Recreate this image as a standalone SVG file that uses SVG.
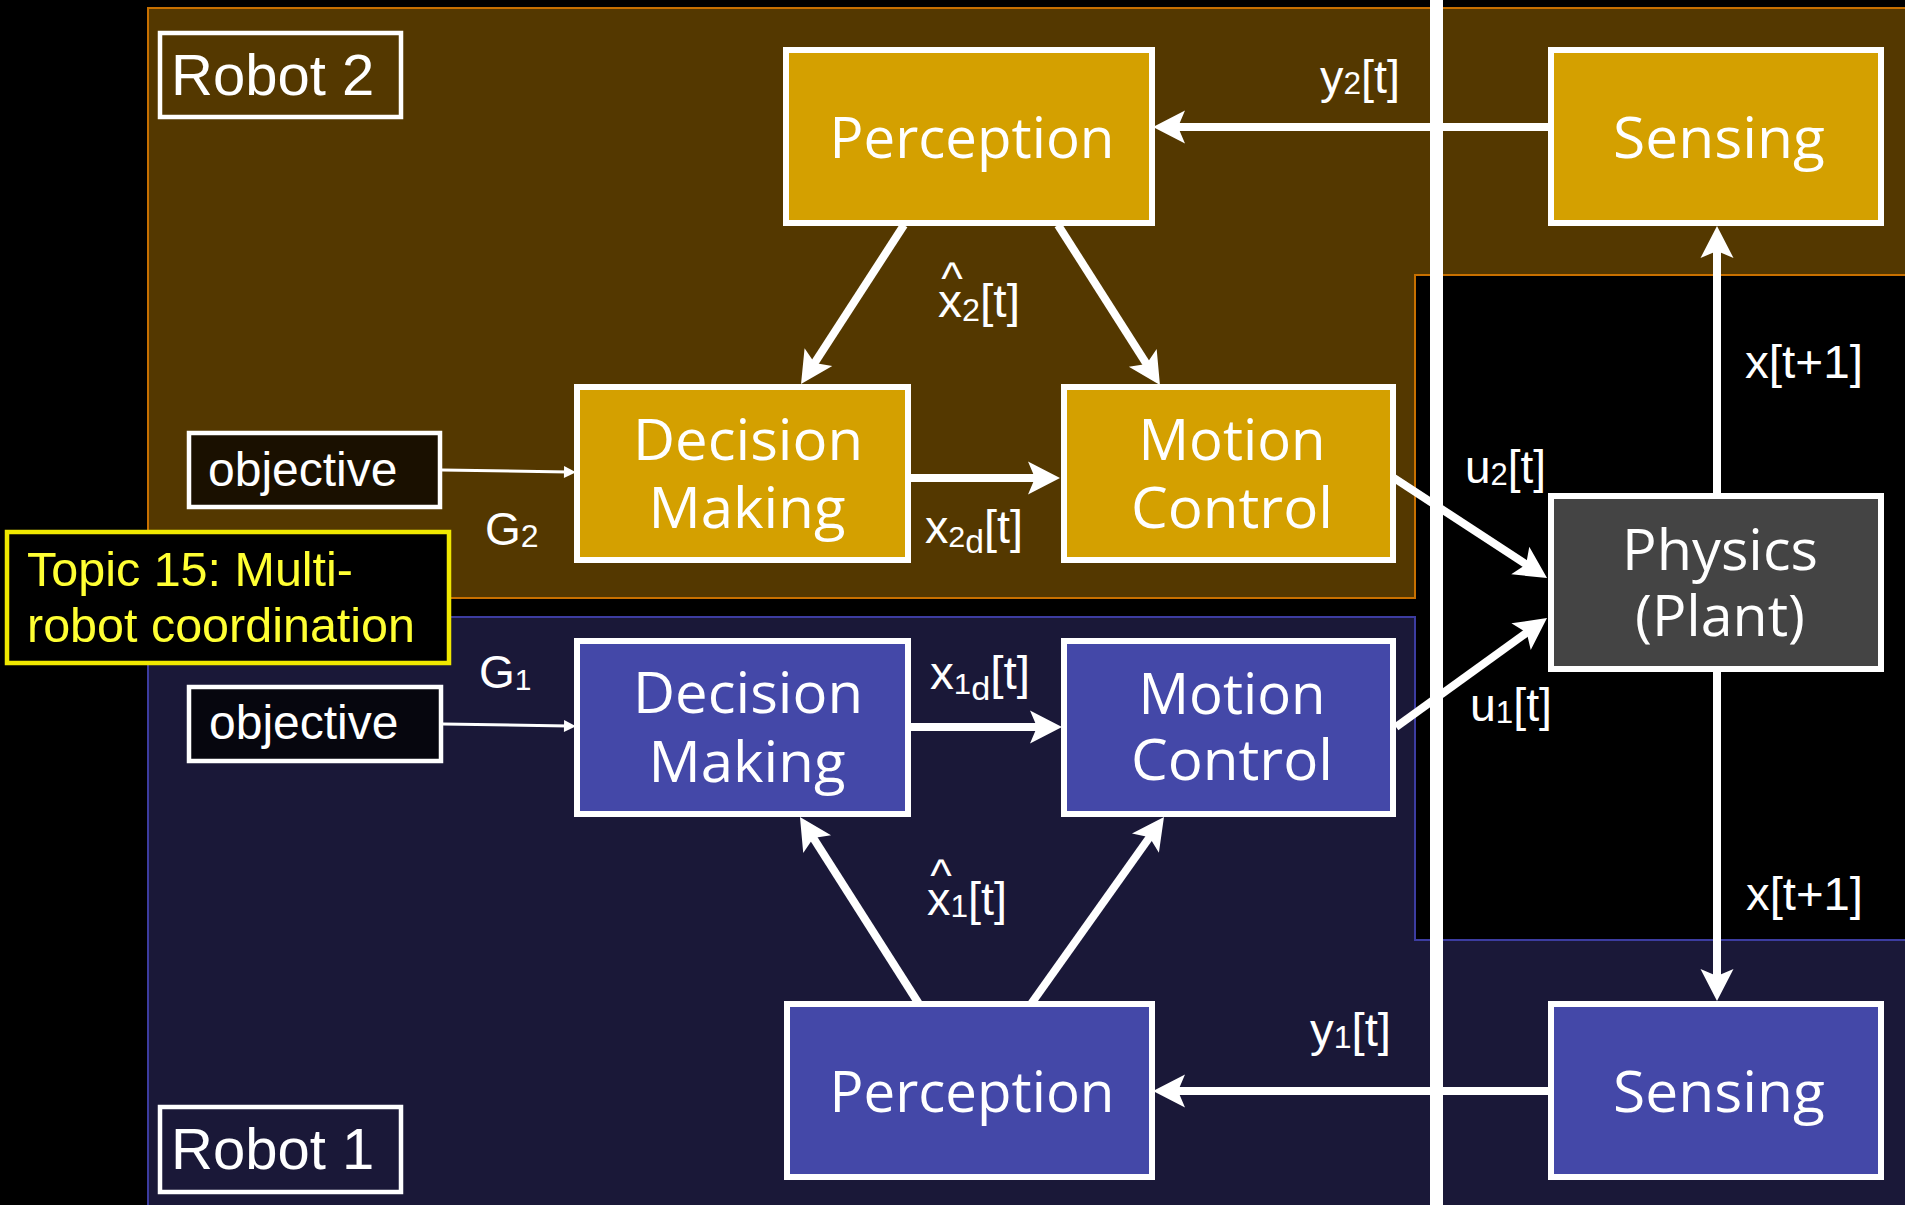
<svg xmlns="http://www.w3.org/2000/svg" width="1905" height="1205" viewBox="0 0 1905 1205">
<style>
.box{stroke:#fff;stroke-width:6}
.gold{fill:#d4a000}
.blue{fill:#4448a8}
.plant{fill:#444444}
.bt{font-family:"Open Sans","Noto Sans",sans-serif;font-size:57px;fill:#fff;text-anchor:middle}
.lb{font-family:"Liberation Sans",Arial,sans-serif;font-size:46px;fill:#fff}
.tag{fill:none;stroke:#fff;stroke-width:4.5}
.tagt{font-family:"Liberation Sans",Arial,sans-serif;font-size:58px;fill:#fff}
.obj{stroke:#fff;stroke-width:4.5}
.objt{font-family:"Liberation Sans",Arial,sans-serif;font-size:48px;fill:#fff}
.thick{stroke:#fff;stroke-width:8;fill:none;marker-end:url(#ah)}
.thin{stroke:#fff;stroke-width:3;fill:none;marker-end:url(#sah)}
</style>
<defs>
<marker id="ah" markerUnits="userSpaceOnUse" viewBox="-14 -18 36 36" markerWidth="36" markerHeight="36" refX="0" refY="0" orient="auto">
<path d="M20,0 L-12,-16.5 L-5,0 L-12,16.5 Z" fill="#fff"/>
</marker>
<marker id="sah" markerUnits="userSpaceOnUse" viewBox="-6 -8 16 16" markerWidth="16" markerHeight="16" refX="0" refY="0" orient="auto">
<path d="M8,0 L-4,-6 L-4,6 Z" fill="#fff"/>
</marker>
</defs>
<rect x="0" y="0" width="1905" height="1205" fill="#000"/>
<g id="regions">
<path d="M148,8 H1910 V275 H1415 V598 H148 Z" fill="#543800" stroke="#c87000" stroke-width="2"/>
<path d="M148,617 H1415 V940 H1910 V1210 H148 Z" fill="#1a1838" stroke="#3c3ca0" stroke-width="2"/>
<rect x="1430" y="0" width="13" height="1205" fill="#fff"/>
</g>
<g id="robot2-label"><rect class="tag" x="160" y="33" width="241" height="84"/><text class="tagt" x="171" y="95">Robot 2</text></g>
<g id="robot1-label"><rect class="tag" x="160" y="1107" width="241" height="85"/><text class="tagt" x="171" y="1169">Robot 1</text></g>
<g id="topic"><rect x="7" y="532" width="442" height="131" fill="#000" stroke="#f0e800" stroke-width="4.5"/>
<text font-family="Liberation Sans,Arial,sans-serif" font-size="48" fill="#ffff33" x="27" y="586" textLength="326" lengthAdjust="spacingAndGlyphs">Topic 15: Multi-</text>
<text font-family="Liberation Sans,Arial,sans-serif" font-size="48" fill="#ffff33" x="27" y="642" textLength="388" lengthAdjust="spacingAndGlyphs">robot coordination</text></g>
<g id="objective2"><rect class="obj" x="189" y="433" width="251" height="74" fill="#1a1000"/><text class="objt" x="208" y="486">objective</text></g>
<g id="objective1"><rect class="obj" x="189" y="687" width="252" height="74" fill="#06060e"/><text class="objt" x="209" y="739">objective</text></g>
<g id="perception2"><rect class="box gold" x="786" y="50" width="366" height="173"/><text class="bt" x="972" y="158" textLength="285" lengthAdjust="spacingAndGlyphs">Perception</text></g>
<g id="sensing2"><rect class="box gold" x="1551" y="50" width="330" height="173"/><text class="bt" x="1719" y="158" textLength="212" lengthAdjust="spacingAndGlyphs">Sensing</text></g>
<g id="decision2"><rect class="box gold" x="577" y="387" width="331" height="173"/><text class="bt" x="748" y="460" textLength="230" lengthAdjust="spacingAndGlyphs">Decision</text><text class="bt" x="747" y="528" textLength="197" lengthAdjust="spacingAndGlyphs">Making</text></g>
<g id="motion2"><rect class="box gold" x="1064" y="387" width="329" height="173"/><text class="bt" x="1232" y="460" textLength="187" lengthAdjust="spacingAndGlyphs">Motion</text><text class="bt" x="1232" y="528" textLength="202" lengthAdjust="spacingAndGlyphs">Control</text></g>
<g id="physics"><rect class="box plant" x="1551" y="496" width="330" height="173"/><text class="bt" x="1720" y="570" textLength="196" lengthAdjust="spacingAndGlyphs">Physics</text><text class="bt" x="1720" y="636" textLength="170" lengthAdjust="spacingAndGlyphs">(Plant)</text></g>
<g id="decision1"><rect class="box blue" x="577" y="641" width="331" height="173"/><text class="bt" x="748" y="713" textLength="230" lengthAdjust="spacingAndGlyphs">Decision</text><text class="bt" x="747" y="782" textLength="197" lengthAdjust="spacingAndGlyphs">Making</text></g>
<g id="motion1"><rect class="box blue" x="1064" y="641" width="329" height="173"/><text class="bt" x="1232" y="714" textLength="187" lengthAdjust="spacingAndGlyphs">Motion</text><text class="bt" x="1232" y="780" textLength="202" lengthAdjust="spacingAndGlyphs">Control</text></g>
<g id="perception1"><rect class="box blue" x="787" y="1004" width="365" height="173"/><text class="bt" x="972" y="1112" textLength="285" lengthAdjust="spacingAndGlyphs">Perception</text></g>
<g id="sensing1"><rect class="box blue" x="1551" y="1004" width="330" height="173"/><text class="bt" x="1719" y="1112" textLength="212" lengthAdjust="spacingAndGlyphs">Sensing</text></g>
<g id="connectors">
<line class="thick" x1="1549" y1="127" x2="1173" y2="127"/>
<line class="thick" x1="1549" y1="1091" x2="1173" y2="1091"/>
<line class="thick" x1="1717" y1="493" x2="1717" y2="246"/>
<line class="thick" x1="1717" y1="672" x2="1717" y2="981"/>
<line class="thick" x1="904" y1="225" x2="811.9" y2="367.2"/>
<line class="thick" x1="1058" y1="225" x2="1149.2" y2="368.1"/>
<line class="thick" x1="910" y1="478" x2="1040" y2="478"/>
<line class="thick" x1="1394" y1="478" x2="1530.3" y2="567.1"/>
<line class="thick" x1="1396" y1="727" x2="1530.8" y2="629.7"/>
<line class="thick" x1="910" y1="727" x2="1042" y2="727"/>
<line class="thick" x1="919" y1="1004" x2="810.7" y2="833.9"/>
<line class="thick" x1="1031" y1="1004" x2="1152.4" y2="833.3"/>
<line class="thin" x1="442" y1="470" x2="568" y2="472"/>
<line class="thin" x1="443" y1="724" x2="568" y2="726"/>
</g>
<g id="labels">
<text class="lb" x="1320" y="93" textLength="80" lengthAdjust="spacingAndGlyphs">y<tspan font-size="31" dy="1">2</tspan><tspan dy="-1">[t]</tspan></text>
<text class="lb" x="952" y="294" font-size="40" text-anchor="middle">^</text>
<text class="lb" x="938" y="317" textLength="82" lengthAdjust="spacingAndGlyphs">x<tspan font-size="31" dy="4">2</tspan><tspan dy="-4">[t]</tspan></text>
<text class="lb" x="925" y="543" textLength="98" lengthAdjust="spacingAndGlyphs">x<tspan font-size="30" dy="4">2</tspan><tspan font-size="33" dy="6">d</tspan><tspan dy="-10">[t]</tspan></text>
<text class="lb" x="485" y="545">G<tspan font-size="32" dy="2">2</tspan></text>
<text class="lb" x="479" y="688">G<tspan font-size="30" dy="2">1</tspan></text>
<text class="lb" x="930" y="689" textLength="100" lengthAdjust="spacingAndGlyphs">x<tspan font-size="30" dy="5">1</tspan><tspan font-size="33" dy="6">d</tspan><tspan dy="-11">[t]</tspan></text>
<text class="lb" x="941" y="891" font-size="40" text-anchor="middle">^</text>
<text class="lb" x="927" y="915" textLength="80" lengthAdjust="spacingAndGlyphs">x<tspan font-size="31" dy="2">1</tspan><tspan dy="-2">[t]</tspan></text>
<text class="lb" x="1465" y="483" textLength="81" lengthAdjust="spacingAndGlyphs">u<tspan font-size="31" dy="2">2</tspan><tspan dy="-2">[t]</tspan></text>
<text class="lb" x="1470" y="721" textLength="82" lengthAdjust="spacingAndGlyphs">u<tspan font-size="31" dy="2">1</tspan><tspan dy="-2">[t]</tspan></text>
<text class="lb" x="1310" y="1046" textLength="81" lengthAdjust="spacingAndGlyphs">y<tspan font-size="31" dy="2">1</tspan><tspan dy="-2">[t]</tspan></text>
<text class="lb" x="1745" y="378" textLength="118" lengthAdjust="spacingAndGlyphs">x[t+1]</text>
<text class="lb" x="1746" y="910" textLength="117" lengthAdjust="spacingAndGlyphs">x[t+1]</text>
</g>
</svg>
